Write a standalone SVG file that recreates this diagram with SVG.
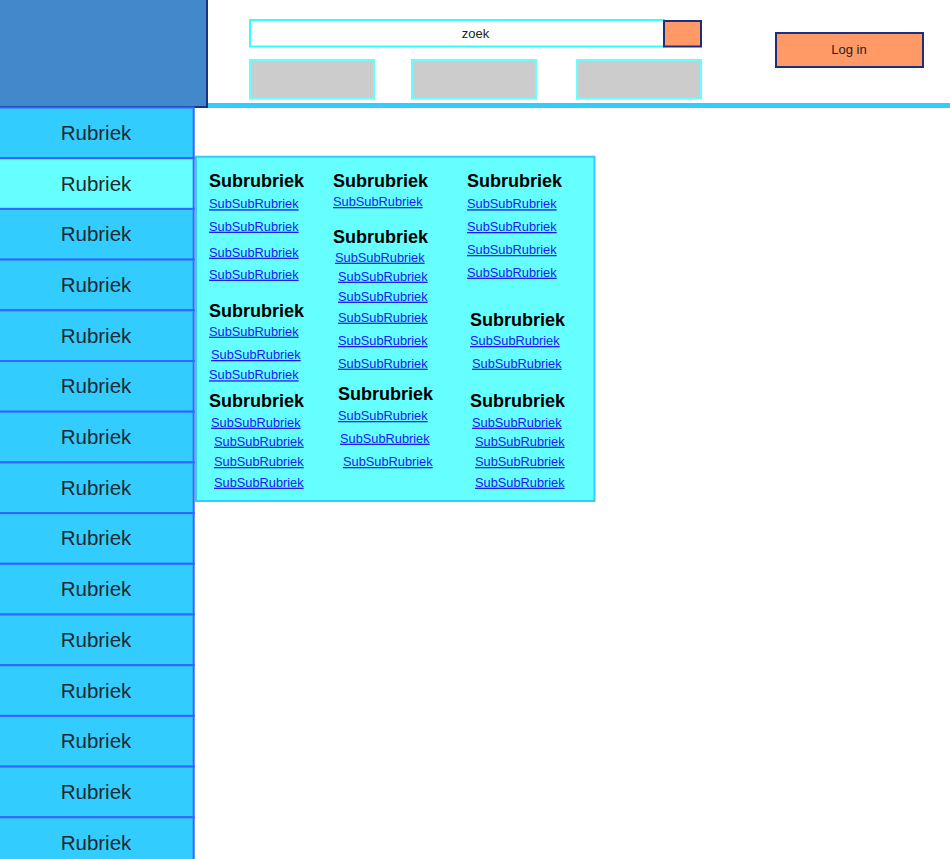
<svg xmlns="http://www.w3.org/2000/svg" width="950" height="859" viewBox="0 0 950 859">
<style>
text{font-family:"Liberation Sans",Arial,sans-serif}
.row{fill:#33ccff;stroke:#3366ff;stroke-width:2}
.row.hl{fill:#66ffff}
.rt{font-size:20.5px;fill:#1e2a30;text-anchor:middle}
.h{font-size:18px;font-weight:bold;fill:#000}
.l{font-size:12.8px;fill:#1a1aee;text-decoration:underline}
.gray{fill:#cccccc;stroke:#66ffff;stroke-width:2}
.btn{fill:#ff9966;stroke:#1a2f80;stroke-width:2}
.bt{font-size:13px;fill:#222;text-anchor:middle}
</style>
<rect width="950" height="859" fill="#ffffff"/>
<g id="header">
  <rect id="topbar" x="208" y="103" width="742" height="5" fill="#33ccff"/>
  <g id="logo"><rect x="-2" y="-2" width="209" height="109" fill="#4488cc" stroke="#1a3380" stroke-width="2"/></g>
  <g id="search">
    <rect x="250" y="20" width="414" height="26.5" fill="#ffffff" stroke="#33ffff" stroke-width="2"/>
    <text class="bt" x="475.5" y="38">zoek</text>
  </g>
  <g id="search-button"><rect class="btn" x="664" y="21" width="37" height="25.5"/></g>
  <g id="nav1"><rect class="gray" x="250" y="60" width="124" height="38.5"/></g>
  <g id="nav2"><rect class="gray" x="412" y="60" width="124" height="38.5"/></g>
  <g id="nav3"><rect class="gray" x="577" y="60" width="124" height="38.5"/></g>
  <g id="login"><rect class="btn" x="776" y="33" width="147" height="34"/><text class="bt" x="849" y="54">Log in</text></g>
</g>
<g id="sidebar">
  <g id="r1"><rect class="row" x="-2" y="107.5" width="195.7" height="50.7"/><text class="rt" x="96" y="139.8">Rubriek</text></g>
  <g id="r2"><rect class="row hl" x="-2" y="158.2" width="195.7" height="50.7"/><text class="rt" x="96" y="190.5">Rubriek</text></g>
  <g id="r3"><rect class="row" x="-2" y="208.9" width="195.7" height="50.7"/><text class="rt" x="96" y="241.2">Rubriek</text></g>
  <g id="r4"><rect class="row" x="-2" y="259.6" width="195.7" height="50.7"/><text class="rt" x="96" y="291.9">Rubriek</text></g>
  <g id="r5"><rect class="row" x="-2" y="310.3" width="195.7" height="50.7"/><text class="rt" x="96" y="342.6">Rubriek</text></g>
  <g id="r6"><rect class="row" x="-2" y="361" width="195.7" height="50.7"/><text class="rt" x="96" y="393.3">Rubriek</text></g>
  <g id="r7"><rect class="row" x="-2" y="411.7" width="195.7" height="50.7"/><text class="rt" x="96" y="444">Rubriek</text></g>
  <g id="r8"><rect class="row" x="-2" y="462.4" width="195.7" height="50.7"/><text class="rt" x="96" y="494.7">Rubriek</text></g>
  <g id="r9"><rect class="row" x="-2" y="513.1" width="195.7" height="50.7"/><text class="rt" x="96" y="545.4">Rubriek</text></g>
  <g id="r10"><rect class="row" x="-2" y="563.8" width="195.7" height="50.7"/><text class="rt" x="96" y="596.1">Rubriek</text></g>
  <g id="r11"><rect class="row" x="-2" y="614.5" width="195.7" height="50.7"/><text class="rt" x="96" y="646.8">Rubriek</text></g>
  <g id="r12"><rect class="row" x="-2" y="665.2" width="195.7" height="50.7"/><text class="rt" x="96" y="697.5">Rubriek</text></g>
  <g id="r13"><rect class="row" x="-2" y="715.9" width="195.7" height="50.7"/><text class="rt" x="96" y="748.2">Rubriek</text></g>
  <g id="r14"><rect class="row" x="-2" y="766.6" width="195.7" height="50.7"/><text class="rt" x="96" y="798.9">Rubriek</text></g>
  <g id="r15"><rect class="row" x="-2" y="817.3" width="195.7" height="50.7"/><text class="rt" x="96" y="849.6">Rubriek</text></g>
</g>
<g id="dropdown">
  <rect x="196" y="156.7" width="398.5" height="344.3" fill="#66ffff" stroke="#33ccff" stroke-width="2"/>
  <g id="c1a">
    <text class="h" x="209" y="187">Subrubriek</text>
    <text class="l" x="209" y="208.3">SubSubRubriek</text>
    <text class="l" x="209" y="230.7">SubSubRubriek</text>
    <text class="l" x="209" y="256.7">SubSubRubriek</text>
    <text class="l" x="209" y="278.7">SubSubRubriek</text>
  </g>
  <g id="c1b">
    <text class="h" x="209" y="316.5">Subrubriek</text>
    <text class="l" x="209" y="335.7">SubSubRubriek</text>
    <text class="l" x="211" y="359">SubSubRubriek</text>
    <text class="l" x="209" y="379.3">SubSubRubriek</text>
  </g>
  <g id="c1c">
    <text class="h" x="209" y="407.3">Subrubriek</text>
    <text class="l" x="211" y="426.7">SubSubRubriek</text>
    <text class="l" x="214" y="445.7">SubSubRubriek</text>
    <text class="l" x="214" y="466">SubSubRubriek</text>
    <text class="l" x="214" y="486.7">SubSubRubriek</text>
  </g>
  <g id="c2a">
    <text class="h" x="333" y="186.7">Subrubriek</text>
    <text class="l" x="333" y="206">SubSubRubriek</text>
  </g>
  <g id="c2b">
    <text class="h" x="333" y="242.5">Subrubriek</text>
    <text class="l" x="335" y="261.7">SubSubRubriek</text>
    <text class="l" x="338" y="280.7">SubSubRubriek</text>
    <text class="l" x="338" y="300.7">SubSubRubriek</text>
    <text class="l" x="338" y="321.7">SubSubRubriek</text>
    <text class="l" x="338" y="345">SubSubRubriek</text>
    <text class="l" x="338" y="367.7">SubSubRubriek</text>
  </g>
  <g id="c2c">
    <text class="h" x="338" y="400">Subrubriek</text>
    <text class="l" x="338" y="420">SubSubRubriek</text>
    <text class="l" x="340" y="442.7">SubSubRubriek</text>
    <text class="l" x="343" y="466">SubSubRubriek</text>
  </g>
  <g id="c3a">
    <text class="h" x="467" y="186.7">Subrubriek</text>
    <text class="l" x="467" y="208.3">SubSubRubriek</text>
    <text class="l" x="467" y="231">SubSubRubriek</text>
    <text class="l" x="467" y="254">SubSubRubriek</text>
    <text class="l" x="467" y="276.7">SubSubRubriek</text>
  </g>
  <g id="c3b">
    <text class="h" x="470" y="326">Subrubriek</text>
    <text class="l" x="470" y="345">SubSubRubriek</text>
    <text class="l" x="472" y="367.7">SubSubRubriek</text>
  </g>
  <g id="c3c">
    <text class="h" x="470" y="407.3">Subrubriek</text>
    <text class="l" x="472" y="426.7">SubSubRubriek</text>
    <text class="l" x="475" y="445.7">SubSubRubriek</text>
    <text class="l" x="475" y="466">SubSubRubriek</text>
    <text class="l" x="475" y="486.7">SubSubRubriek</text>
  </g>
</g>
<g id="connectors"></g>
</svg>
